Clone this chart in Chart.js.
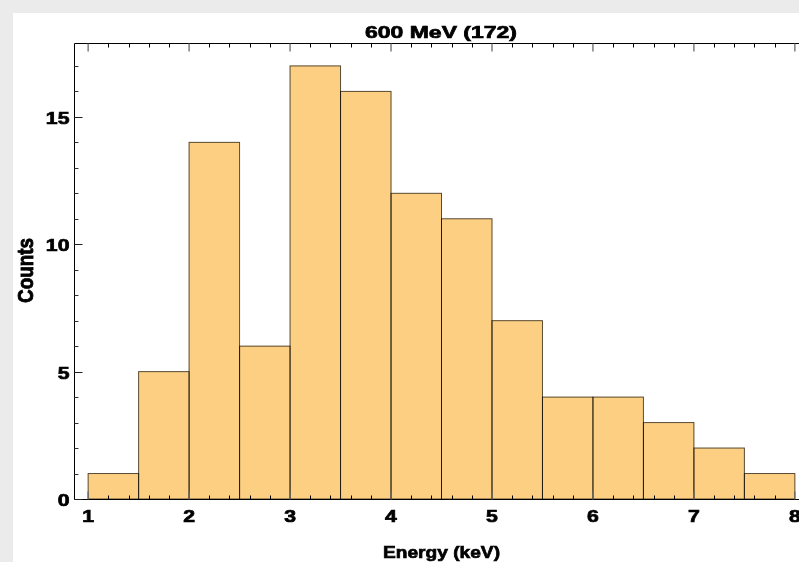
<!DOCTYPE html>
<html>
<head>
<meta charset="utf-8">
<script src="https://cdn.jsdelivr.net/npm/chart.js@4.4.1/dist/chart.umd.min.js"></script>
<style>
  html, body { margin: 0; padding: 0; background: #fff; overflow: hidden; height: 100%; }
  #band-top { position: fixed; left: 0; top: 0; right: 0; height: 13px; background: #ebebeb; }
  #band-left { position: fixed; left: 0; top: 0; bottom: 0; width: 13px; background: #ebebeb; }
  #wrap { position: fixed; left: 13px; top: 13px; right: 0; bottom: 0; overflow: hidden; background: #fff; }
  canvas { display: block; }
</style>
</head>
<body>
<div id="band-top"></div>
<div id="band-left"></div>
<div id="wrap"><canvas id="histChart" width="810" height="549"></canvas></div>
<script>
// histogram bins (lower edges) and counts per bin
const binLow = [1, 1.5, 2, 2.5, 3, 3.5, 4, 4.5, 5, 5.5, 6, 6.5, 7, 7.5];
const binWidth = 0.5;
const counts = [1, 5, 14, 6, 17, 16, 12, 11, 7, 4, 4, 3, 2, 1];

const xTicks = [1, 2, 3, 4, 5, 6, 7, 8];
const yTicks = [0, 5, 10, 15];
const xMinorStep = 0.2;
const yMinorStep = 1;
const xRange = [0.86, 8.14];
const yRange = [0, 17.9];

const titleText = '600 MeV (172)';
const xTitle = 'Energy (keV)';
const yTitle = 'Counts';

const FONT = 'bold 17px "Liberation Sans", Arial, sans-serif';

// text drawn with a horizontal stretch, either a fixed factor or fitted to a width
function drawText(ctx, text, x, y, opts) {
    ctx.save();
    ctx.font = FONT;
    const w = ctx.measureText(text).width;
    const sx = opts.width ? opts.width / w : (opts.sx || 1);
    ctx.translate(x, y);
    if (opts.rotate) ctx.rotate(opts.rotate);
    ctx.scale(sx, opts.sy || 1);
    ctx.textAlign = opts.align || 'center';
    ctx.textBaseline = 'alphabetic';
    ctx.fillStyle = '#000';
    ctx.strokeStyle = '#000';
    ctx.lineWidth = 0.7;
    ctx.fillText(text, 0, 0);
    ctx.strokeText(text, 0, 0);
    ctx.restore();
}

const framePlugin = {
    id: 'frame',
    afterDatasetsDraw(chart) {
        const { ctx, chartArea: a, scales: { x, y } } = chart;

        // bar outlines, shared edges overlap so they come out darker
        const meta = chart.getDatasetMeta(0);
        ctx.save();
        ctx.strokeStyle = 'rgba(0, 0, 0, 0.65)';
        ctx.lineWidth = 1;
        meta.data.forEach(bar => {
            const p = bar.getProps(['x', 'y', 'base', 'width'], true);
            ctx.strokeRect(p.x - p.width / 2, p.y, p.width, p.base - p.y);
        });
        ctx.restore();

        ctx.save();
        ctx.strokeStyle = '#000';
        ctx.lineWidth = 1;
        const L = Math.round(a.left) + 0.5;
        const T = Math.round(a.top) + 0.5;
        const B = Math.round(a.bottom) + 0.5;

        // frame: left, top and bottom (right edge falls outside the view)
        ctx.beginPath();
        ctx.moveTo(a.right + 20, T);
        ctx.lineTo(L, T);
        ctx.lineTo(L, B);
        ctx.lineTo(a.right + 20, B);
        ctx.stroke();

        // x ticks, top and bottom, pointing inwards
        for (let v = 1; v <= xRange[1] + 1e-9; v += xMinorStep) {
            if (v < xRange[0]) continue;
            const major = Math.abs(v - Math.round(v)) < 1e-6;
            const px = x.getPixelForValue(v);
            const len = major ? 8 : 4;
            ctx.strokeStyle = major ? '#6a6a6a' : '#000';
            ctx.lineWidth = major ? 1.3 : 1;
            const sx = major ? px : Math.round(px) + 0.5;
            ctx.beginPath();
            ctx.moveTo(sx, T);
            ctx.lineTo(sx, T + len);
            ctx.moveTo(sx, B);
            ctx.lineTo(sx, B - len);
            ctx.stroke();
        }

        // y ticks on the left, pointing inwards
        for (let v = 0; v <= yRange[1]; v += yMinorStep) {
            const major = v % 5 === 0;
            const py = Math.round(y.getPixelForValue(v)) + 0.5;
            const len = major ? 8 : 4;
            ctx.strokeStyle = major ? '#222' : '#333';
            ctx.lineWidth = 1;
            ctx.beginPath();
            ctx.moveTo(L, py);
            ctx.lineTo(L + len, py);
            ctx.stroke();
        }
        ctx.restore();

        // tick labels
        xTicks.forEach(v => {
            drawText(ctx, String(v), x.getPixelForValue(v), 509, { sx: 1.25 });
        });
        yTicks.forEach(v => {
            drawText(ctx, String(v), 56.5, y.getPixelForValue(v) + 7, { sx: 1.25, align: 'right' });
        });

        // titles
        drawText(ctx, titleText, 428, 24.5, { width: 152 });
        drawText(ctx, xTitle, 428.5, 544.5, { width: 117 });
        ctx.save();
        ctx.font = FONT;
        const cw = ctx.measureText(yTitle).width;
        ctx.restore();
        drawText(ctx, yTitle, 20, 257.5, { rotate: -Math.PI / 2, sx: 65 / cw, sy: 1.3 });
    }
};

const ctx = document.getElementById('histChart').getContext('2d');
new Chart(ctx, {
    type: 'bar',
    data: {
        datasets: [{
            data: binLow.map((lo, i) => ({ x: lo + binWidth / 2, y: counts[i] })),
            backgroundColor: 'rgb(252, 207, 131)',
            borderWidth: 0,
            barPercentage: 1,
            categoryPercentage: 1
        }]
    },
    options: {
        responsive: false,
        animation: false,
        devicePixelRatio: 1,
        layout: { padding: { top: 30, right: 14, left: 0, bottom: 0 } },
        plugins: {
            legend: { display: false },
            tooltip: { enabled: false },
            title: { display: false }
        },
        scales: {
            x: {
                type: 'linear',
                min: xRange[0],
                max: xRange[1],
                offset: false,
                grid: { display: false, offset: false },
                border: { display: false },
                ticks: { display: false },
                afterFit(s) { s.height = 63; }
            },
            y: {
                min: yRange[0],
                max: yRange[1],
                grid: { display: false },
                border: { display: false },
                ticks: { display: false },
                afterFit(s) { s.width = 61; }
            }
        }
    },
    plugins: [framePlugin]
});
</script>
</body>
</html>
